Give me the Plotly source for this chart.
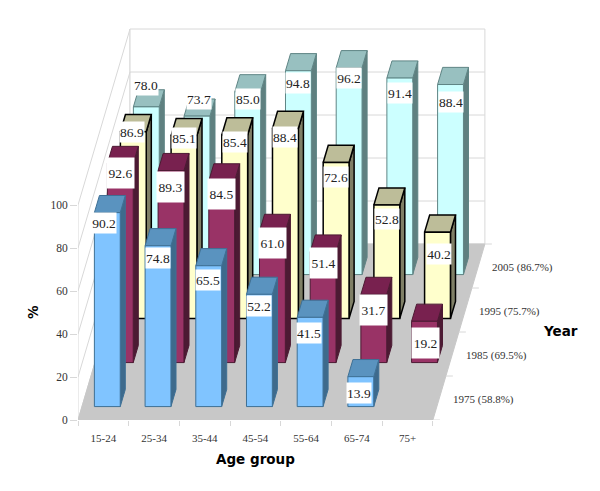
import plotly.graph_objects as go

age_groups = ["15-24", "25-34", "35-44", "45-54", "55-64", "65-74", "75+"]
year_labels = ["1975 (58.8%)", "1985 (69.5%)", "1995 (75.7%)", "2005 (86.7%)"]
values_1975 = [90.2, 74.8, 65.5, 52.2, 41.5, 13.9, None]
values_1985 = [92.6, 89.3, 84.5, 61.0, 51.4, 31.7, 19.2]
values_1995 = [86.9, 85.1, 85.4, 88.4, 72.6, 52.8, 40.2]
values_2005 = [78.0, 73.7, 85.0, 94.8, 96.2, 91.4, 88.4]
series = [values_1975, values_1985, values_1995, values_2005]
z_ticks = [0, 20, 40, 60, 80, 100]

# oblique projection of (category, depth, value) into the 2D axes
PX_X, PX_Z = 50.7, 2.15
SHEAR_X, SHEAR_Z = 13.0 / PX_X, 44.0 / PX_Z
def proj(i, d, z):
    return i + SHEAR_X * d, z + SHEAR_Z * d

BAR_W, BAR_D = 0.51, 0.39
colors = [  # front, top, side, edge, edge width
    ("#80C4FF", "#5A93BF", "#3E6A8C", "#3E7095", 1),
    ("#993366", "#78214F", "#4C1A33", "#4C1A33", 1),
    ("#FFFFCC", "#BDBD99", "#7F7F66", "#000000", 1.5),
    ("#CCFFFF", "#98C0C0", "#5F8080", "#5F8585", 1),
]
# manual label placement of the original chart, pixels from the bar's front top centre
label_dx = [
    [-3, 0, -1, 0, -1, -2, 0],
    [0, -1, 0, 0, 0, 0, 1],
    [-1, 0, 0, 0, 0, 0, 1],
    [0, 2, 0, 0, 0, 0, 0],
]
label_dy = [
    [-10, -12, -14, -12, -16, -16, 0],
    [-10, -16, -13, -12, -11, -16, -22],
    [0, -2, -7, -8, -15, -14, -22],
    [22, 17, -7, -12, -10, -15, -17],
]
label_h = [20, 30, 20, 20]
label_w = [24, 27, 24, 24]

fig = go.Figure()

def poly(points, fill, line=None, width=1):
    xs = [p[0] for p in points] + [points[0][0]]
    ys = [p[1] for p in points] + [points[0][1]]
    fig.add_trace(go.Scatter(x=xs, y=ys, mode="lines", fill="toself", fillcolor=fill,
                             line=dict(color=line or fill, width=width),
                             hoverinfo="skip", showlegend=False))

def seg(points, color="#D8D8D8", width=1):
    fig.add_trace(go.Scatter(x=[p[0] for p in points], y=[p[1] for p in points], mode="lines",
                             line=dict(color=color, width=width), hoverinfo="skip", showlegend=False))

N, D, ZMAX = len(age_groups), len(year_labels), z_ticks[-1]
# walls
poly([proj(0, 0, 0), proj(0, D, 0), proj(0, D, ZMAX), proj(0, 0, ZMAX)], "#FFFFFF", "#D8D8D8")
poly([proj(0, D, 0), proj(N, D, 0), proj(N, D, ZMAX), proj(0, D, ZMAX)], "#FFFFFF", "#D8D8D8")
for z in z_ticks[1:-1]:
    seg([proj(0, 0, z), proj(0, D, z), proj(N, D, z)])
# floor
poly([proj(0, 0, 0), proj(N, 0, 0), proj(N, D, 0), proj(0, D, 0)], "#C8C8C8", "#C8C8C8")
# depth ticks
for d in range(D + 1):
    x0, y0 = proj(N, d, 0)
    seg([(x0, y0), (x0 + 7 / PX_X, y0)])

# bars, back to front
annotations = []
for d in range(D - 1, -1, -1):
    front, top, side, edge, ew = colors[d]
    for i, v in enumerate(series[d]):
        if v is None:
            continue
        x0, x1 = i + 0.5 - BAR_W / 2, i + 0.5 + BAR_W / 2
        d0, d1 = d + 0.5 - BAR_D / 2, d + 0.5 + BAR_D / 2
        poly([proj(x1, d0, 0), proj(x1, d1, 0), proj(x1, d1, v), proj(x1, d0, v)], side, edge, ew)
        poly([proj(x0, d0, v), proj(x1, d0, v), proj(x1, d1, v), proj(x0, d1, v)], top, edge, ew)
        poly([proj(x0, d0, 0), proj(x1, d0, 0), proj(x1, d0, v), proj(x0, d0, v)], front, edge, ew)

# labels are drawn above all bars
for d in range(D):
    for i, v in enumerate(series[d]):
        if v is None:
            continue
        lx, ly = proj(i + 0.5, d + 0.5 - BAR_D / 2, v)
        annotations.append(dict(x=lx, y=ly, xref="x", yref="y", text=f"{v:.1f}", showarrow=False,
                                xshift=label_dx[d][i], yshift=label_dy[d][i],
                                bgcolor="#FFFFFF", height=label_h[d], width=label_w[d], borderpad=0,
                                font=dict(family="Liberation Serif", size=13.5, color="#222222")))

# year labels along the depth axis
for d, name in enumerate(year_labels):
    lx, ly = proj(N, d + 0.5, 0)
    annotations.append(dict(x=lx, y=ly, xref="x", yref="y", text=name, showarrow=False,
                            xanchor="left", xshift=12, yshift=-1,
                            font=dict(family="Liberation Serif", size=11, color="#333333")))

title_font = dict(family="DejaVu Sans", size=13.5, color="#000000", weight="bold")
for px, py, txt, ang in [(255, 32, "Age group", 0), (560, 160, "Year", 0), (33, 179, "%", -90)]:
    annotations.append(dict(x=(px - 78) / 522, y=(py - 71) / 420, xref="paper", yref="paper",
                            xanchor="center", yanchor="middle", text=txt, showarrow=False,
                            textangle=ang, font=title_font))

fig.update_layout(
    width=600, height=491, margin=dict(l=78, r=0, t=0, b=71),
    paper_bgcolor="#FFFFFF", plot_bgcolor="#FFFFFF", showlegend=False,
    annotations=annotations,
    xaxis=dict(range=[0, 522 / PX_X], showgrid=False, zeroline=False, showline=False,
               tickmode="array", tickvals=[i + 0.5 for i in range(N)], ticktext=age_groups,
               ticks="outside", ticklen=8, tickcolor="rgba(0,0,0,0)",
               tickfont=dict(family="Liberation Serif", size=11, color="#333333"),
               minor=dict(tickmode="array", tickvals=list(range(N + 1)), ticks="outside",
                          ticklen=5, tickcolor="#D8D8D8", showgrid=False)),
    yaxis=dict(range=[0, 420 / PX_Z], showgrid=False, zeroline=False, showline=False,
               tickmode="array", tickvals=z_ticks, ticks="outside", ticklen=7, tickcolor="#D8D8D8",
               tickfont=dict(family="Liberation Serif", size=11.5, color="#333333")),
)

fig.write_html("out.html", config={"displayModeBar": False},
               post_script="document.body.style.margin='0';")
